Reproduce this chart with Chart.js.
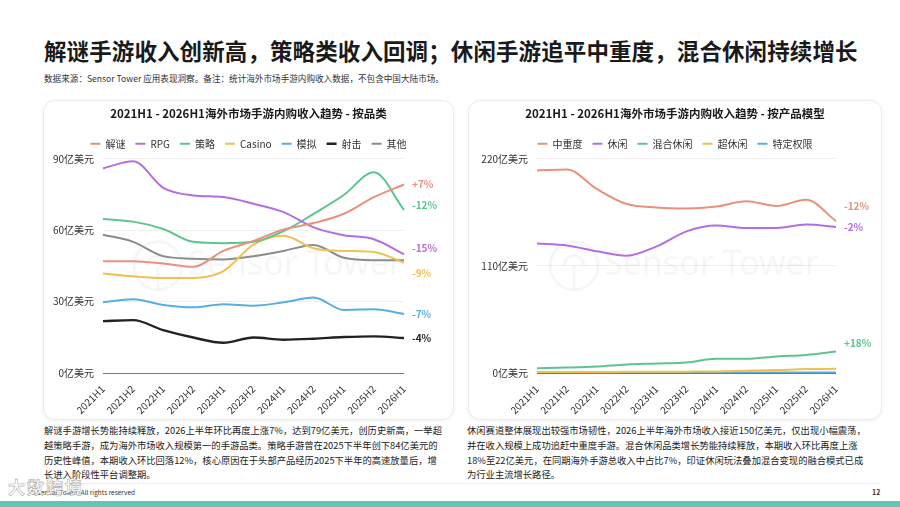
<!DOCTYPE html>
<html>
<head>
<meta charset="utf-8">
<script src="https://cdn.jsdelivr.net/npm/chart.js@4.4.1/dist/chart.umd.min.js"></script>
<style>
  html, body { margin:0; padding:0; background:#fff; }
  body { width:900px; height:507px; position:relative; overflow:hidden; font-family:'Noto Sans CJK SC','Noto Sans',sans-serif; color:#222; }
  .title { position:absolute; left:44px; top:34px; font-size:22.5px; font-weight:bold; letter-spacing:0.1px; white-space:nowrap; color:#1a1a1a; }
  .sub { position:absolute; left:44px; top:72px; font-size:8.6px; color:#333; white-space:nowrap; }
  .card { position:absolute; background:#fff; border:1px solid #ececec; border-radius:12px; box-shadow:0 1px 4px rgba(0,0,0,0.06); overflow:hidden; }
  .card canvas { position:absolute; left:0; top:0; }
  .txt { position:absolute; font-size:9.3px; line-height:14.8px; color:#222; white-space:nowrap; }
  .footline { position:absolute; left:20px; right:20px; top:483px; height:1px; background:#eee; }
  .foot { position:absolute; left:30px; top:487px; font-size:6.5px; color:#333; }
  .page { position:absolute; left:872px; top:487px; font-size:7px; font-weight:bold; color:#333; }
  .bar { position:absolute; left:0; right:0; top:501px; height:6px; background:#5ec8b3; }
  .wm { position:absolute; left:8px; top:474px; font-size:17px; color:rgba(255,255,255,0.85); -webkit-text-stroke:0.6px rgba(120,120,120,0.6); font-weight:bold; letter-spacing:2px; }
</style>
</head>
<body>
<div class="title">解谜手游收入创新高，策略类收入回调；休闲手游追平中重度，混合休闲持续增长</div>
<div class="sub">数据来源：Sensor Tower 应用表现洞察。备注：统计海外市场手游内购收入数据，不包含中国大陆市场。</div>

<div class="card" style="left:43px;top:100px;width:409px;height:318px;"><canvas id="ch1"></canvas></div>
<div class="card" style="left:468px;top:100px;width:412px;height:318px;"><canvas id="ch2"></canvas></div>

<div class="txt" style="left:44px;top:423px;">解谜手游增长势能持续释放，2026上半年环比再度上涨7%，达到79亿美元，创历史新高，一举超<br>越策略手游，成为海外市场收入规模第一的手游品类。策略手游曾在2025下半年创下84亿美元的<br>历史性峰值，本期收入环比回落12%，核心原因在于头部产品经历2025下半年的高速放量后，增<br>长进入阶段性平台调整期。</div>
<div class="txt" style="left:467px;top:423px;">休闲赛道整体展现出较强市场韧性，2026上半年海外市场收入接近150亿美元，仅出现小幅震荡，<br>并在收入规模上成功追赶中重度手游。混合休闲品类增长势能持续释放，本期收入环比再度上涨<br>18%至22亿美元，在同期海外手游总收入中占比7%，印证休闲玩法叠加混合变现的融合模式已成<br>为行业主流增长路径。</div>

<div class="footline"></div>
<div class="foot">© Sensor Tower. All rights reserved</div>
<div class="wm">大数跨境</div>
<div class="page">12</div>
<div class="bar"></div>

<script>
// ---------- data ----------
const categories = ['2021H1','2021H2','2022H1','2022H2','2023H1','2023H2','2024H1','2024H2','2025H1','2025H2','2026H1'];

// Left chart: by genre (亿美元)
const genreNames = ['解谜','RPG','策略','Casino','模拟','射击','其他'];
const puzzle   = [47.0, 47.0, 46.0, 44.6, 51.3, 55.5, 60.3, 63.0, 66.9, 73.9, 79.2];
const rpg      = [86.0, 89.0, 77.8, 74.6, 73.9, 71.1, 67.6, 61.2, 57.9, 56.2, 49.9];
const strategy = [64.7, 63.6, 60.5, 55.1, 54.5, 55.1, 59.6, 66.9, 74.8, 84.4, 68.5];
const casino   = [41.8, 40.6, 39.9, 39.9, 42.8, 53.9, 57.7, 52.4, 51.3, 50.8, 46.3];
const simulation = [29.7, 31.0, 28.6, 27.6, 28.9, 28.3, 29.7, 31.7, 26.5, 26.8, 24.8];
const shooter  = [21.8, 22.2, 18.0, 14.9, 12.7, 14.9, 14.0, 14.4, 15.1, 15.4, 14.7];
const others   = [58.1, 55.1, 49.1, 48.0, 47.7, 49.1, 51.3, 53.8, 48.4, 47.4, 47.4];
const genreChanges = ['+7%','-15%','-12%','-9%','-7%','-4%',''];
const leftTicks = [0, 30, 60, 90];

// Right chart: by product model (亿美元)
const modelNames = ['中重度','休闲','混合休闲','超休闲','特定权限'];
const midcore  = [208.0, 209.0, 189.0, 173.5, 170.0, 169.0, 171.0, 176.5, 171.5, 178.0, 156.0];
const casual   = [133.0, 131.0, 125.0, 120.5, 130.0, 145.5, 151.5, 149.0, 149.0, 152.5, 150.0];
const hybrid   = [5.0, 5.6, 6.6, 8.7, 9.7, 10.8, 14.6, 14.6, 17.0, 18.5, 22.0];
const hyper    = [1.0, 1.0, 1.0, 1.2, 1.3, 1.4, 1.6, 2.3, 3.0, 4.0, 4.3];
const special  = [0.2, 0.2, 0.2, 0.2, 0.3, 0.3, 0.3, 0.4, 0.4, 0.5, 0.5];
const modelChanges = ['-12%','-2%','+18%','',''];
const rightTicks = [0, 110, 220];

// ---------- styles ----------
const genreColors = ['#e8917c','#b46ee0','#5ec48f','#f0c14f','#58aee2','#222222','#8c8c8c'];
const modelColors = ['#e8917c','#b46ee0','#5ec48f','#f0c14f','#58aee2'];
const genreLabelDy = [0, -6, -5, 10, 0, 0, 0];
const modelLabelDy = [-15, 0, -8, 0, 0];

Chart.defaults.font.family = "'Noto Sans CJK SC','Noto Sans',sans-serif";
Chart.defaults.color = '#333';

const endLabels = {
  id: 'endLabels',
  afterDatasetsDraw(chart, args, opts) {
    const ctx = chart.ctx;
    ctx.save();
    ctx.font = "bold 10px 'Noto Sans CJK SC','Noto Sans',sans-serif";
    ctx.textBaseline = 'middle';
    ctx.textAlign = 'left';
    chart.data.datasets.forEach((ds, i) => {
      const t = opts.texts[i];
      if (!t) return;
      const meta = chart.getDatasetMeta(i);
      const pt = meta.data[meta.data.length - 1];
      ctx.fillStyle = ds.borderColor;
      ctx.fillText(t, pt.x + opts.dx, pt.y + opts.dy[i]);
    });
    ctx.restore();
  }
};

const watermark = {
  id: 'watermark',
  beforeDatasetsDraw(chart, args, opts) {
    const ctx = chart.ctx, a = chart.chartArea;
    ctx.save();
    ctx.strokeStyle = 'rgba(0,0,0,0.035)';
    ctx.fillStyle = 'rgba(0,0,0,0.035)';
    ctx.lineWidth = 3;
    const cx = a.left + opts.cx, cy = a.top + opts.cy;
    ctx.beginPath(); ctx.arc(cx, cy, 24, 0, Math.PI * 2); ctx.stroke();
    ctx.beginPath(); ctx.arc(cx, cy, 10, Math.PI, 0); ctx.stroke();
    ctx.beginPath(); ctx.moveTo(cx, cy); ctx.lineTo(cx, cy + 24); ctx.stroke();
    ctx.font = "34px 'Noto Sans','Noto Sans CJK SC',sans-serif";
    ctx.textBaseline = 'middle';
    ctx.fillText('Sensor Tower', cx + 30, cy);
    ctx.restore();
  }
};

function makeChart(id, names, series, colors, ticks, changes, dy, title, yWidth, padRight, wmPos) {
  const max = ticks[ticks.length - 1];
  return new Chart(document.getElementById(id), {
    type: 'line',
    data: {
      labels: categories,
      datasets: series.map((d, i) => ({
        label: names[i], data: d, borderColor: colors[i], backgroundColor: colors[i],
        borderWidth: colors[i] === '#222222' ? 2.4 : 2, pointRadius: 0, tension: 0.4,
        cubicInterpolationMode: 'monotone', fill: false
      }))
    },
    options: {
      responsive: false, animation: false,
      layout: { padding: { top: 6, right: 0, left: 0, bottom: 0 } },
      plugins: {
        title: { display: true, text: title, color: '#1a1a1a', font: { size: 11.5, weight: 'bold' }, padding: { top: 0, bottom: 8 } },
        legend: { display: true, labels: { usePointStyle: true, pointStyle: 'line', pointStyleWidth: 10, boxHeight: 8, color: '#333', font: { size: 10 }, padding: 10 } },
        tooltip: { enabled: false },
        endLabels: { texts: changes, dx: 8, dy: dy },
        watermark: wmPos
      },
      scales: {
        x: {
          offset: false,
          grid: { display: false },
          border: { display: false },
          ticks: { maxRotation: 45, minRotation: 45, font: { size: 10 }, color: '#333', padding: 2, autoSkip: false },
          afterFit: s => { s.height = 46; }
        },
        y: {
          min: 0, max: max,
          afterBuildTicks: s => { s.ticks = ticks.map(v => ({ value: v })); },
          grid: { color: c => c.tick && c.tick.value === 0 ? '#777' : '#eeeeee', lineWidth: 1, drawTicks: false },
          border: { display: false },
          ticks: { callback: v => v + '亿美元', font: { size: 10 }, color: '#333', padding: 9 },
          afterFit: s => { s.width = yWidth; }
        },
        yPad: {
          position: 'right', display: true, min: 0, max: max,
          grid: { display: false }, border: { display: false },
          ticks: { display: false },
          afterFit: s => { s.width = padRight; }
        }
      }
    },
    plugins: [endLabels, watermark]
  });
}

const c1 = document.getElementById('ch1'); c1.width = 409; c1.height = 318;
const c2 = document.getElementById('ch2'); c2.width = 412; c2.height = 318;

makeChart('ch1', genreNames, [puzzle, rpg, strategy, casino, simulation, shooter, others], genreColors,
  leftTicks, genreChanges, genreLabelDy, '2021H1 - 2026H1海外市场手游内购收入趋势 - 按品类', 59, 49, { cx: 55, cy: 107 });
makeChart('ch2', modelNames, [midcore, casual, hybrid, hyper, special], modelColors,
  rightTicks, modelChanges, modelLabelDy, '2021H1 - 2026H1海外市场手游内购收入趋势 - 按产品模型', 68, 45, { cx: 37, cy: 107 });
</script>
</body>
</html>
